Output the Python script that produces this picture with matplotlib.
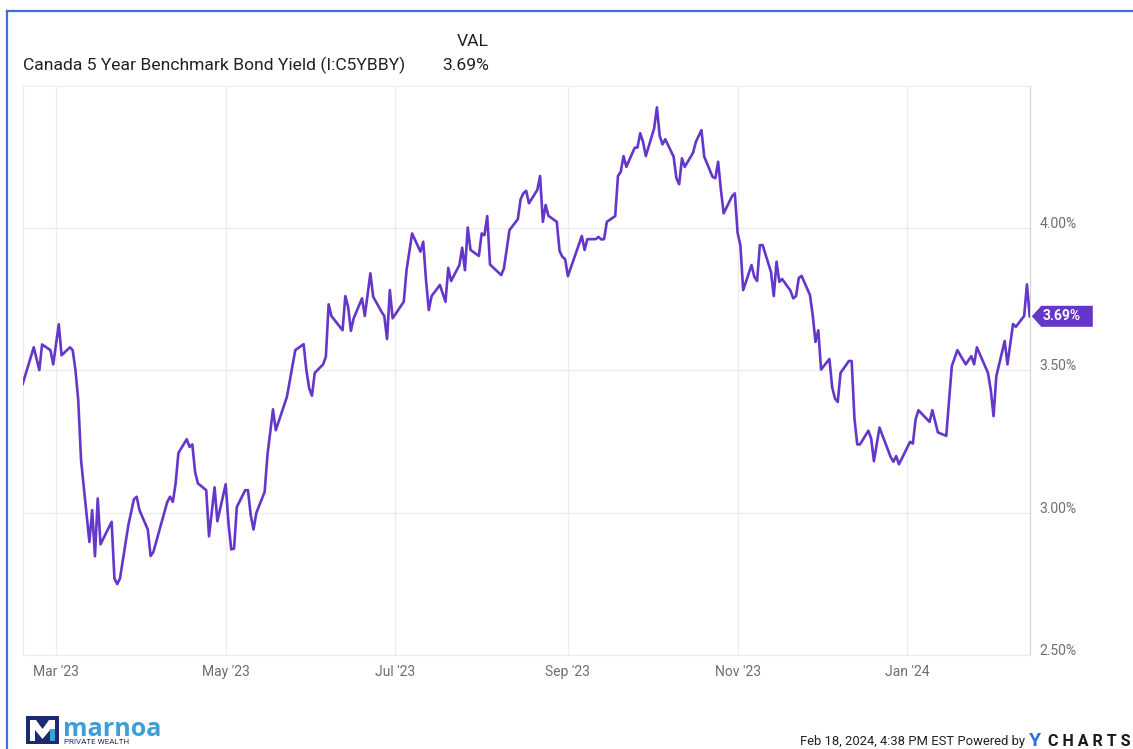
import matplotlib.pyplot as plt
import pandas as pd
from matplotlib.patches import Polygon, Rectangle
from matplotlib.lines import Line2D
from matplotlib.transforms import ScaledTranslation, blended_transform_factory

plt.rcParams['font.family'] = ['Roboto', 'DejaVu Sans']

series_name = "Canada 5 Year Benchmark Bond Yield (I:C5YBBY)"

dates = [
    '2023-02-17', '2023-02-21', '2023-02-23', '2023-02-24', '2023-02-27', '2023-02-28',
    '2023-03-02', '2023-03-03', '2023-03-06', '2023-03-07', '2023-03-08', '2023-03-09',
    '2023-03-10', '2023-03-13', '2023-03-14', '2023-03-15', '2023-03-16', '2023-03-17',
    '2023-03-21', '2023-03-22', '2023-03-23', '2023-03-24', '2023-03-27', '2023-03-29',
    '2023-03-30', '2023-03-31', '2023-04-03', '2023-04-04', '2023-04-05', '2023-04-10',
    '2023-04-11', '2023-04-12', '2023-04-13', '2023-04-14', '2023-04-17', '2023-04-18',
    '2023-04-19', '2023-04-20', '2023-04-21', '2023-04-24', '2023-04-25', '2023-04-27',
    '2023-04-28', '2023-05-01', '2023-05-02', '2023-05-03', '2023-05-04', '2023-05-05',
    '2023-05-08', '2023-05-09', '2023-05-10', '2023-05-11', '2023-05-12', '2023-05-15',
    '2023-05-16', '2023-05-18', '2023-05-19', '2023-05-23', '2023-05-26', '2023-05-29',
    '2023-05-30', '2023-05-31', '2023-06-01', '2023-06-02', '2023-06-05', '2023-06-06',
    '2023-06-07', '2023-06-08', '2023-06-12', '2023-06-13', '2023-06-14', '2023-06-15',
    '2023-06-16', '2023-06-19', '2023-06-20', '2023-06-22', '2023-06-23', '2023-06-26',
    '2023-06-27', '2023-06-28', '2023-06-29', '2023-06-30', '2023-07-04', '2023-07-05',
    '2023-07-07', '2023-07-10', '2023-07-11', '2023-07-12', '2023-07-13', '2023-07-14',
    '2023-07-17', '2023-07-19', '2023-07-20', '2023-07-21', '2023-07-24', '2023-07-25',
    '2023-07-26', '2023-07-27', '2023-07-28', '2023-07-31', '2023-08-01', '2023-08-02',
    '2023-08-03', '2023-08-04', '2023-08-08', '2023-08-09', '2023-08-11', '2023-08-14',
    '2023-08-15', '2023-08-16', '2023-08-17', '2023-08-18', '2023-08-21', '2023-08-22',
    '2023-08-23', '2023-08-24', '2023-08-25', '2023-08-28', '2023-08-29', '2023-08-30',
    '2023-08-31', '2023-09-01', '2023-09-06', '2023-09-07', '2023-09-08', '2023-09-11',
    '2023-09-12', '2023-09-13', '2023-09-14', '2023-09-15', '2023-09-18', '2023-09-19',
    '2023-09-20', '2023-09-21', '2023-09-22', '2023-09-25', '2023-09-26', '2023-09-27',
    '2023-09-28', '2023-09-29', '2023-10-02', '2023-10-03', '2023-10-04', '2023-10-05',
    '2023-10-06', '2023-10-09', '2023-10-10', '2023-10-11', '2023-10-12', '2023-10-13',
    '2023-10-16', '2023-10-17', '2023-10-19', '2023-10-20', '2023-10-23', '2023-10-24',
    '2023-10-25', '2023-10-26', '2023-10-27', '2023-10-30', '2023-10-31', '2023-11-01',
    '2023-11-02', '2023-11-03', '2023-11-06', '2023-11-07', '2023-11-08', '2023-11-09',
    '2023-11-10', '2023-11-13', '2023-11-14', '2023-11-15', '2023-11-16', '2023-11-17',
    '2023-11-20', '2023-11-21', '2023-11-22', '2023-11-23', '2023-11-24', '2023-11-27',
    '2023-11-28', '2023-11-29', '2023-11-30', '2023-12-01', '2023-12-04', '2023-12-05',
    '2023-12-06', '2023-12-07', '2023-12-08', '2023-12-11', '2023-12-12', '2023-12-13',
    '2023-12-14', '2023-12-15', '2023-12-18', '2023-12-19', '2023-12-20', '2023-12-22',
    '2023-12-26', '2023-12-27', '2023-12-28', '2023-12-29', '2024-01-02', '2024-01-03',
    '2024-01-04', '2024-01-05', '2024-01-09', '2024-01-10', '2024-01-12', '2024-01-15',
    '2024-01-17', '2024-01-19', '2024-01-22', '2024-01-24', '2024-01-25', '2024-01-26',
    '2024-01-30', '2024-01-31', '2024-02-01', '2024-02-02', '2024-02-05', '2024-02-06',
    '2024-02-08', '2024-02-09', '2024-02-12', '2024-02-13', '2024-02-14',
]

yields = [
    3.452, 3.581, 3.501, 3.591, 3.571, 3.521,
    3.662, 3.553, 3.581, 3.571, 3.501, 3.395,
    3.185, 2.897, 3.009, 2.847, 3.050, 2.889,
    2.968, 2.769, 2.749, 2.769, 2.956, 3.047,
    3.056, 3.009, 2.941, 2.848, 2.862, 3.038,
    3.056, 3.038, 3.103, 3.210, 3.258, 3.231,
    3.240, 3.143, 3.103, 3.079, 2.917, 3.089,
    2.970, 3.100, 2.962, 2.871, 2.874, 3.020,
    3.079, 3.079, 2.991, 2.941, 2.999, 3.073,
    3.202, 3.363, 3.290, 3.407, 3.571, 3.592,
    3.501, 3.437, 3.411, 3.491, 3.521, 3.548,
    3.732, 3.691, 3.641, 3.761, 3.723, 3.639,
    3.683, 3.753, 3.691, 3.841, 3.759, 3.706,
    3.691, 3.610, 3.782, 3.683, 3.741, 3.852,
    3.981, 3.917, 3.952, 3.817, 3.712, 3.761,
    3.800, 3.741, 3.860, 3.814, 3.870, 3.931,
    3.852, 4.002, 3.923, 3.902, 3.981, 3.975,
    4.042, 3.872, 3.835, 3.858, 3.993, 4.031,
    4.101, 4.122, 4.131, 4.087, 4.134, 4.183,
    4.022, 4.081, 4.043, 4.022, 3.920, 3.899,
    3.891, 3.831, 3.972, 3.923, 3.961, 3.961,
    3.969, 3.960, 3.961, 4.022, 4.042, 4.183,
    4.198, 4.253, 4.215, 4.282, 4.283, 4.333,
    4.303, 4.253, 4.350, 4.424, 4.324, 4.294,
    4.312, 4.251, 4.175, 4.154, 4.245, 4.215,
    4.265, 4.303, 4.344, 4.251, 4.180, 4.175,
    4.233, 4.134, 4.052, 4.112, 4.122, 3.983,
    3.940, 3.782, 3.870, 3.829, 3.814, 3.940,
    3.940, 3.846, 3.761, 3.882, 3.811, 3.821,
    3.780, 3.753, 3.761, 3.825, 3.832, 3.765,
    3.694, 3.600, 3.641, 3.503, 3.540, 3.440,
    3.401, 3.389, 3.491, 3.533, 3.533, 3.331,
    3.240, 3.240, 3.288, 3.261, 3.181, 3.299,
    3.196, 3.179, 3.199, 3.170, 3.249, 3.243,
    3.329, 3.360, 3.319, 3.360, 3.282, 3.270,
    3.515, 3.571, 3.521, 3.550, 3.521, 3.581,
    3.491, 3.431, 3.339, 3.480, 3.603, 3.521,
    3.663, 3.653, 3.691, 3.802, 3.690,
]

tick_dates = ['2023-03-01', '2023-05-01', '2023-07-01', '2023-09-01', '2023-11-01', '2024-01-01']
tick_labels = ["Mar '23", "May '23", "Jul '23", "Sep '23", "Nov '23", "Jan '24"]
y_ticks = [2.5, 3.0, 3.5, 4.0]

PURPLE = '#6436c9'
GRID = '#ececec'
TICK = '#6e6e6e'
NAVY = '#1c2b6e'
LIGHTBLUE = '#3e9fd8'

W, H = 1133, 749
fig = plt.figure(figsize=(W / 100, H / 100), dpi=100)
ax = fig.add_axes([22.5 / W, 1 - 655 / H, (1030.3 - 22.5) / W, (655 - 85.75) / H])

x = pd.to_datetime(dates)
ax.plot(x, yields, color=PURPLE, lw=1.9, solid_joinstyle='round', zorder=3)

ax.set_ylim(2.5, 4.5)
ax.set_xlim(pd.Timestamp('2023-02-16 23:00'), pd.Timestamp('2024-02-14 05:00'))
ax.set_xticks(pd.to_datetime(tick_dates))
ax.set_xticklabels(tick_labels)
ax.set_yticks(y_ticks)
ax.set_yticklabels([f'{v:.2f}%' for v in y_ticks])
ax.yaxis.tick_right()
ax.tick_params(length=0, colors=TICK, labelsize=10)
ax.tick_params(axis='y', pad=6.5)
ax.tick_params(axis='x', pad=7)
for lbl in ax.get_yticklabels():
    lbl.set_va('baseline')
ax.grid(color=GRID, lw=1)
for side in ['top', 'left', 'bottom']:
    ax.spines[side].set_color(GRID)
ax.spines['right'].set_color('#d0d0d0')

# last value tag
blend = blended_transform_factory(ax.transAxes, ax.transData)
tag_trans = fig.dpi_scale_trans + ScaledTranslation(1.0, yields[-1], blend)
tag = Polygon([(0.015, 0), (0.11, 0.105), (0.625, 0.105), (0.625, -0.105), (0.11, -0.105)],
              closed=True, facecolor=PURPLE, edgecolor='none', transform=tag_trans, clip_on=False)
ax.add_patch(tag)
ax.text(0.125, 0, f'{yields[-1]:.2f}%', transform=tag_trans, color='white', fontsize=10,
        fontweight='bold', ha='left', va='center')

# header
fig.text(23 / W, 1 - 65 / H, series_name, fontsize=12.6, color='#222222', ha='left', va='center')
fig.text(489 / W, 1 - 41 / H, 'VAL', fontsize=12.6, color='#222222', ha='right', va='center')
fig.text(489 / W, 1 - 65 / H, f'{yields[-1]:.2f}%', fontsize=12.6, color='#222222', ha='right', va='center')

# blue frame
fig.add_artist(Line2D([7.3 / W, 7.3 / W], [0, 1 - 10.5 / H], color='#3f72d6', lw=1.6))
fig.add_artist(Line2D([7.3 / W, 1], [1 - 10.5 / H, 1 - 10.5 / H], color='#3f72d6', lw=1.6))

# footer left: logo
fig.add_artist(Rectangle((26 / W, 1 - 744 / H), 33 / W, 28 / H, transform=fig.transFigure,
                         facecolor=NAVY, edgecolor='none'))
m_pts = [(30, 741), (30, 720), (36, 720), (42.5, 729), (49, 720), (55, 720), (55, 741),
         (50, 741), (50, 730), (42.5, 739), (35, 730), (35, 741)]
fig.add_artist(Polygon([(px / W, 1 - py / H) for px, py in m_pts], closed=True,
                       transform=fig.transFigure, facecolor='white', edgecolor='none'))
fig.add_artist(Rectangle((50 / W, 1 - 741 / H), 5 / W, 12 / H, transform=fig.transFigure,
                         facecolor=LIGHTBLUE, edgecolor='none'))
fig.text(63 / W, 1 - 729 / H, 'marnoa', fontsize=18, fontweight='bold', color=LIGHTBLUE,
         ha='left', va='center', family=['Open Sans', 'DejaVu Sans'])
fig.text(64 / W, 1 - 742.5 / H, 'PRIVATE WEALTH', fontsize=5.8, color=NAVY,
         ha='left', va='center')

# footer right
fig.text(1025 / W, 1 - 741 / H, 'Feb 18, 2024, 4:38 PM EST Powered by', fontsize=9.4,
         color='#222222', ha='right', va='center')
fig.text(1029 / W, 1 - 741 / H, 'Y', fontsize=14, fontweight='bold', color='#2f6fe0',
         ha='left', va='center')
fig.text(1131 / W, 1 - 741 / H, 'C H A R T S', fontsize=11.5, fontweight='bold', color='#1a1a1a',
         ha='right', va='center')

fig.savefig('out.png', dpi=100)
